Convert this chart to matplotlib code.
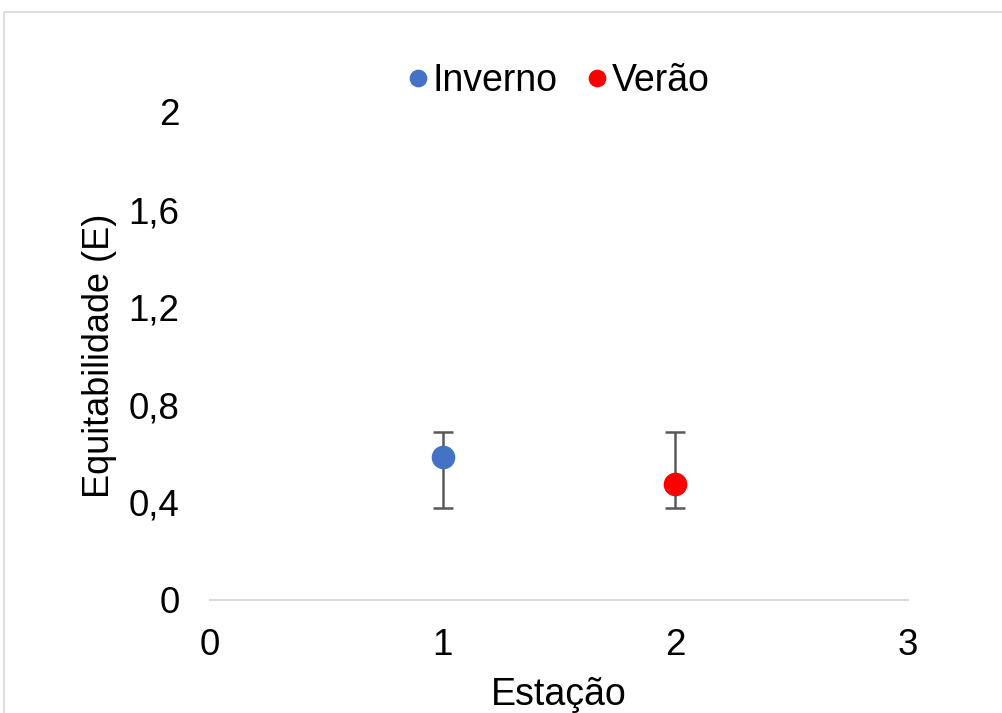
import matplotlib
matplotlib.use("Agg")
import matplotlib.pyplot as plt
from matplotlib.ticker import FuncFormatter
from matplotlib.patches import Rectangle

# dados
estacoes = ["Inverno", "Verão"]
x_vals = [1, 2]
equitabilidade = [0.585, 0.475]
erro_inf = [0.377, 0.377]
erro_sup = [0.69, 0.69]
cores = ["#4472C4", "#FF0000"]

plt.rcParams['font.family'] = ['Liberation Sans', 'DejaVu Sans']

fig = plt.figure(figsize=(10.03, 7.13), dpi=100)
ax = fig.add_axes([0.2094, 0.1585, 0.696, 0.6845])

# moldura do gráfico
fig.patches.append(Rectangle((4 / 1003, -0.1), 1.2, 1 - 12 / 713 + 0.1,
                             transform=fig.transFigure, fill=False,
                             edgecolor="#D9D9D9", linewidth=1.2))

for i, nome in enumerate(estacoes):
    y = equitabilidade[i]
    ax.errorbar(x_vals[i], y,
                yerr=[[y - erro_inf[i]], [erro_sup[i] - y]],
                fmt='none', ecolor="#595959", elinewidth=1.8,
                capsize=7, capthick=1.8, zorder=2)
    ax.plot(x_vals[i], y, 'o', color=cores[i], markersize=17,
            markeredgewidth=0, label=nome, zorder=3)

ax.set_xlim(0, 3)
ax.set_ylim(0, 2)
ax.set_xticks([0, 1, 2, 3])
ax.set_yticks([0, 0.4, 0.8, 1.2, 1.6, 2.0])
ax.yaxis.set_major_formatter(FuncFormatter(lambda v, p: f"{v:g}".replace(".", ",")))

for s in ['top', 'right', 'left']:
    ax.spines[s].set_visible(False)
ax.spines['bottom'].set_color("#D9D9D9")
ax.spines['bottom'].set_linewidth(1.5)
ax.tick_params(axis='both', length=0, labelsize=26.5, colors="black")
ax.tick_params(axis='x', pad=20)
ax.tick_params(axis='y', pad=22)

ax.set_xlabel("Estação", fontsize=27, labelpad=10)
ax.set_ylabel("Equitabilidade (E)", fontsize=26, labelpad=8)

ax.legend(loc='upper center', bbox_to_anchor=(0.5, 1.17), ncol=2,
          frameon=False, fontsize=27, handlelength=0.5, handletextpad=0.15,
          columnspacing=0.8, markerscale=0.75)

fig.savefig("out.png", dpi=100)
